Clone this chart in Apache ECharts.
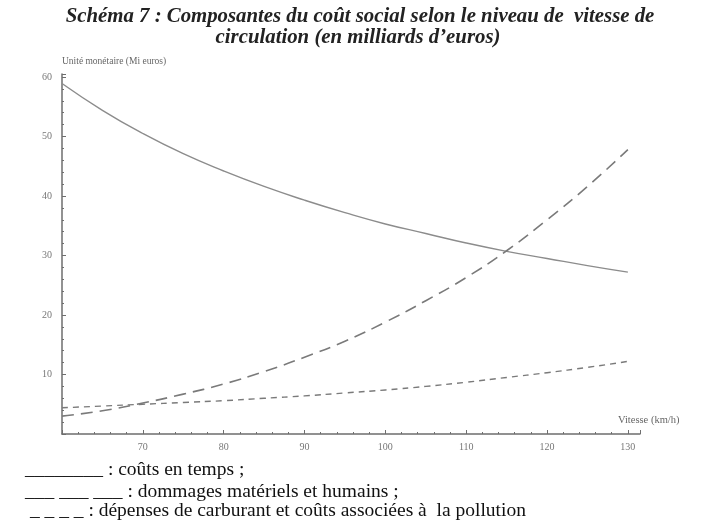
<!DOCTYPE html>
<html>
<head>
<meta charset="utf-8">
<script src="https://cdn.jsdelivr.net/npm/echarts@6/dist/echarts.min.js"></script>
<style>
    html, body {margin: 0; padding: 0; background: #ffffff;}
    #MyChart {width: 720px; height: 525px;}
</style>
</head>
<body>
<div id="MyChart"></div>
<script>
// vitesse (km/h)
var Vitesse = [60, 65, 70, 75, 80, 85, 90, 95, 100, 105, 110, 115, 120, 125, 130]
// coûts en temps
var CoutsTemps = [58.9, 54.4, 50.5, 47.1, 44.2, 41.6, 39.3, 37.2, 35.3, 33.7, 32.1, 30.7, 29.5, 28.3, 27.2]
// dommages matériels et humains
var Dommages = [3.0, 3.9, 5.2, 6.7, 8.4, 10.5, 12.9, 15.6, 18.8, 22.4, 26.3, 30.8, 36.0, 41.6, 47.8]
// carburant et pollution
var Carburant = [4.4, 4.7, 5.0, 5.3, 5.6, 6.0, 6.4, 6.9, 7.4, 8.0, 8.7, 9.5, 10.3, 11.2, 12.2]

var TitleLines = [
    'Schéma 7 : Composantes du coût social selon le niveau de  vitesse de',
    'circulation (en milliards d\u2019euros)'
]
var LegendLines = [
    '________ : coûts en temps ;',
    '___ ___ ___ : dommages matériels et humains ;',
    ' _ _ _ _ : dépenses de carburant et coûts associées à  la pollution'
]

function pairs(ys) {
    let out = []
    for (let i = 0; i < Vitesse.length; i++) {
        out.push([Vitesse[i], ys[i]])
    }
    return out
}

var chartDom = document.getElementById('MyChart');
var myChart = echarts.init(chartDom);
var option;

var serif = '"Liberation Serif", "Times New Roman", serif'
var axisGrey = '#6e6e6e'

option = {
    animation: false,
    backgroundColor: '#ffffff',
    grid: {
        left: 62,
        right: 80,
        top: 74,
        bottom: 91
    },
    xAxis: {
        type: 'value',
        min: 60,
        max: 131.5,
        interval: 10,
        splitLine: {show: false},
        axisLine: {lineStyle: {color: axisGrey, width: 1.5}},
        axisTick: {inside: true, length: 4, lineStyle: {color: axisGrey}},
        minorTick: {show: true, splitNumber: 5, length: 2, lineStyle: {color: axisGrey}},
        axisLabel: {
            showMinLabel: false,
            showMaxLabel: false,
            color: '#777777',
            fontFamily: serif,
            fontSize: 10,
            margin: 8
        }
    },
    yAxis: {
        type: 'value',
        min: 0,
        max: 60.5,
        interval: 10,
        name: 'Unité monétaire (Mi euros)',
        nameLocation: 'end',
        nameGap: 8,
        nameTextStyle: {
            color: '#666666',
            fontFamily: serif,
            fontSize: 9.5,
            align: 'left'
        },
        splitLine: {show: false},
        axisLine: {show: true, lineStyle: {color: axisGrey, width: 1.5}},
        axisTick: {show: true, inside: true, length: 4, lineStyle: {color: axisGrey}},
        minorTick: {show: true, splitNumber: 5, length: 2, lineStyle: {color: axisGrey}},
        axisLabel: {
            showMinLabel: false,
            color: '#777777',
            fontFamily: serif,
            fontSize: 10,
            margin: 10
        }
    },
    series: [
        {
            name: 'coûts en temps',
            type: 'line',
            smooth: true,
            symbol: 'none',
            data: pairs(CoutsTemps),
            lineStyle: {color: '#8c8c8c', width: 1.4, type: 'solid'}
        },
        {
            name: 'dommages matériels et humains',
            type: 'line',
            smooth: true,
            symbol: 'none',
            data: pairs(Dommages),
            lineStyle: {color: '#7a7a7a', width: 1.6, type: [12, 7]}
        },
        {
            name: 'dépenses de carburant',
            type: 'line',
            smooth: true,
            symbol: 'none',
            data: pairs(Carburant),
            lineStyle: {color: '#7a7a7a', width: 1.4, type: [6, 5]}
        }
    ],
    graphic: [
        {
            type: 'text', x: 360, y: 27,
            style: {
                text: TitleLines[0], textAlign: 'center', textVerticalAlign: 'bottom',
                font: 'italic bold 20.8px ' + serif, fill: '#222222'
            }
        },
        {
            type: 'text', x: 358, y: 48,
            style: {
                text: TitleLines[1], textAlign: 'center', textVerticalAlign: 'bottom',
                font: 'italic bold 20.8px ' + serif, fill: '#222222'
            }
        },
        {
            type: 'text', left: 618, top: 415,
            style: {text: 'Vitesse (km/h)', font: '10.5px ' + serif, fill: '#666666'}
        },
        {
            type: 'text', left: 25, top: 460,
            style: {text: LegendLines[0], font: '19.5px ' + serif, fill: '#111111'}
        },
        {
            type: 'text', left: 25, top: 482,
            style: {text: LegendLines[1], font: '19.5px ' + serif, fill: '#111111'}
        },
        {
            type: 'text', left: 25, top: 501,
            style: {text: LegendLines[2], font: '19.5px ' + serif, fill: '#111111'}
        }
    ]
};

option && myChart.setOption(option);
</script>
</body>
</html>
